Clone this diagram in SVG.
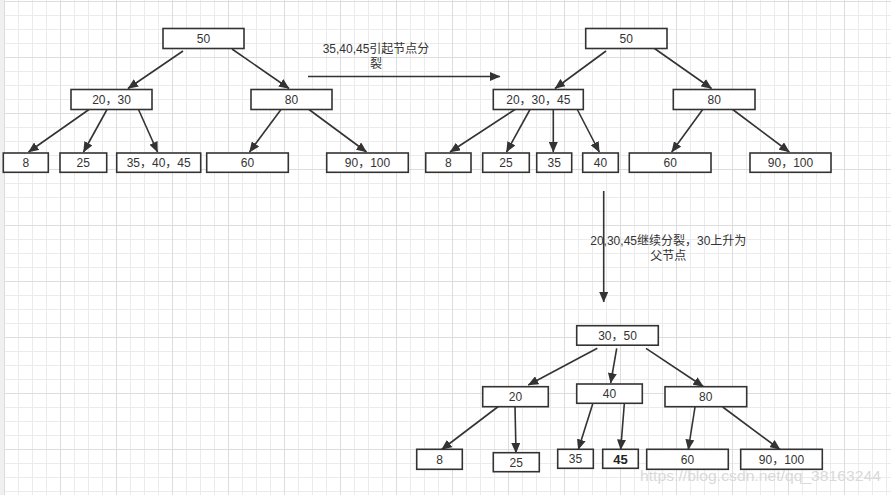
<svg xmlns="http://www.w3.org/2000/svg" width="891" height="495" viewBox="0 0 891 495">
<defs>
<pattern id="grid" x="4" y="1" width="56" height="56" patternUnits="userSpaceOnUse">
<path d="M14.5,0V56M28.5,0V56M42.5,0V56M0,14.5H56M0,28.5H56M0,42.5H56" stroke="#ebebeb" stroke-width="1" fill="none"/>
<path d="M0.5,0V56M0,0.5H56" stroke="#dddddd" stroke-width="1" fill="none"/>
</pattern>
<marker id="ah" markerUnits="userSpaceOnUse" markerWidth="11" markerHeight="9" refX="10" refY="4.5" orient="auto">
<path d="M0,0 L10.5,4.5 L0,9 z" fill="#333"/>
</marker>
<style>
.n rect{fill:#fff;stroke:#333;stroke-width:1.6}
.n text,.t{font-family:"Liberation Sans","Noto Sans CJK SC",sans-serif;font-size:12px;fill:#333;text-anchor:middle}
#edges line{stroke:#333;stroke-width:1.6;marker-end:url(#ah)}
</style>
</defs>
<rect width="891" height="495" fill="#fff"/>
<rect width="891" height="495" fill="url(#grid)"/>
<rect x="0" y="0" width="4" height="495" fill="#f0f0f0"/>

<g id="edges">
<line x1="183" y1="51" x2="128" y2="88.5"/>
<line x1="232" y1="49" x2="289" y2="88.5"/>
<line x1="89" y1="109.5" x2="28.5" y2="152"/>
<line x1="107" y1="109.5" x2="83.5" y2="152"/>
<line x1="138.5" y1="109.5" x2="157.5" y2="152"/>
<line x1="281" y1="109.5" x2="249.5" y2="152"/>
<line x1="309" y1="109.5" x2="366.5" y2="152"/>
<line x1="308" y1="76.5" x2="500" y2="76.5"/>
<line x1="606" y1="51" x2="555" y2="88.5"/>
<line x1="654.5" y1="48.5" x2="711.5" y2="88.5"/>
<line x1="515" y1="109.5" x2="450" y2="152"/>
<line x1="530" y1="109.5" x2="506.5" y2="152"/>
<line x1="553.3" y1="109.5" x2="553.3" y2="152"/>
<line x1="577.3" y1="109.5" x2="599.3" y2="152"/>
<line x1="702.7" y1="109.5" x2="671.7" y2="152"/>
<line x1="732.7" y1="109.5" x2="789.3" y2="152"/>
<line x1="603.7" y1="191" x2="603.7" y2="302"/>
<line x1="597.3" y1="348.3" x2="528.3" y2="385"/>
<line x1="616.7" y1="348.3" x2="610.7" y2="383"/>
<line x1="646" y1="348.3" x2="703.3" y2="386.5"/>
<line x1="498.3" y1="406.5" x2="441.7" y2="449.5"/>
<line x1="515" y1="406.5" x2="516" y2="453"/>
<line x1="592.7" y1="404" x2="578.3" y2="449.5"/>
<line x1="624.3" y1="404" x2="620.7" y2="449.5"/>
<line x1="695" y1="407" x2="688.3" y2="449.5"/>
<line x1="722.7" y1="407" x2="780" y2="449.5"/>
</g>

<text class="t" x="376" y="52.5">35,40,45引起节点分</text>
<text class="t" x="376" y="67.5">裂</text>
<text class="t" x="668.3" y="245">20,30,45继续分裂，30上升为</text>
<text class="t" x="668.3" y="259.5">父节点</text>

<g id="a50" class="n"><rect x="163" y="28.5" width="81" height="20"/><text x="203.5" y="42.8">50</text></g>
<g id="a2030" class="n"><rect x="71" y="89.5" width="81" height="20"/><text x="111.5" y="103.8">20，30</text></g>
<g id="a80" class="n"><rect x="251" y="89.5" width="81" height="20"/><text x="291.5" y="103.8">80</text></g>
<g id="a8" class="n"><rect x="3.3" y="153" width="45" height="19.3"/><text x="25.8" y="167">8</text></g>
<g id="a25" class="n"><rect x="60" y="153" width="46.7" height="19.3"/><text x="83.3" y="167">25</text></g>
<g id="a354045" class="n"><rect x="116.7" y="153" width="84" height="19.3"/><text x="158.7" y="167">35，40，45</text></g>
<g id="a60" class="n"><rect x="206.7" y="153" width="81.6" height="19.3"/><text x="247.5" y="167">60</text></g>
<g id="a90100" class="n"><rect x="326.7" y="153" width="81.6" height="19.3"/><text x="367.5" y="167">90，100</text></g>

<g id="b50" class="n"><rect x="585.7" y="28.5" width="81.3" height="20"/><text x="626.3" y="42.8">50</text></g>
<g id="b203045" class="n"><rect x="493.3" y="89.5" width="90" height="20"/><text x="538.3" y="103.8">20，30，45</text></g>
<g id="b80" class="n"><rect x="673.3" y="89.5" width="81.7" height="20"/><text x="714.2" y="103.8">80</text></g>
<g id="b8" class="n"><rect x="425.7" y="153" width="45.3" height="19.3"/><text x="448.3" y="167">8</text></g>
<g id="b25" class="n"><rect x="482.7" y="153" width="46.6" height="19.3"/><text x="506" y="167">25</text></g>
<g id="b35" class="n"><rect x="536.7" y="153" width="35" height="19.3"/><text x="554.2" y="167">35</text></g>
<g id="b40" class="n"><rect x="582.7" y="153" width="35.6" height="19.3"/><text x="600.5" y="167">40</text></g>
<g id="b60" class="n"><rect x="629.3" y="153" width="81.7" height="19.3"/><text x="670.2" y="167">60</text></g>
<g id="b90100" class="n"><rect x="750" y="153" width="81" height="19.3"/><text x="790.5" y="167">90，100</text></g>

<g id="c3050" class="n"><rect x="576.7" y="325.7" width="81.6" height="19.5"/><text x="617.5" y="339.8">30，50</text></g>
<g id="c20" class="n"><rect x="482.7" y="386.7" width="65.6" height="20"/><text x="515.5" y="401">20</text></g>
<g id="c40" class="n"><rect x="576.7" y="384" width="65.6" height="19.3"/><text x="609.5" y="398">40</text></g>
<g id="c80" class="n"><rect x="665" y="386.7" width="81.7" height="20"/><text x="705.8" y="401">80</text></g>
<g id="c8" class="n"><rect x="416.7" y="449.3" width="45.6" height="20"/><text x="439.5" y="463.6">8</text></g>
<g id="c25" class="n"><rect x="493.3" y="452.7" width="46" height="19"/><text x="516.3" y="466.5">25</text></g>
<g id="c35" class="n"><rect x="557.7" y="449.3" width="35.6" height="19"/><text x="575.5" y="463.2">35</text></g>
<g id="c45" class="n"><rect x="602.7" y="449.3" width="35.6" height="19"/><text x="620.5" y="463.5" style="font-size:13px;font-weight:bold;fill:#222">45</text></g>
<g id="c60" class="n"><rect x="646.7" y="449.3" width="81.6" height="20"/><text x="687.5" y="463.6">60</text></g>
<g id="c90100" class="n"><rect x="740.7" y="449.3" width="81.6" height="20"/><text x="781.5" y="463.6">90，100</text></g>

<text x="640" y="481" font-family="'Liberation Sans',sans-serif" font-size="15" fill="#d9d9d9" textLength="241" lengthAdjust="spacingAndGlyphs">https://blog.csdn.net/qq_38163244</text>
</svg>
